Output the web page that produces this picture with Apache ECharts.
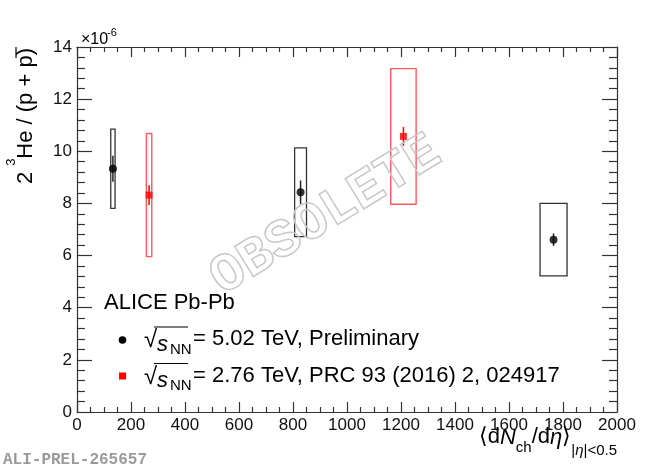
<!DOCTYPE html>
<html>
<head>
<meta charset="utf-8">
<script src="https://cdn.jsdelivr.net/npm/echarts@6/dist/echarts.min.js"></script>
<style>
html,body{margin:0;padding:0;background:#fff;}
#c{width:650px;height:469px;}
</style>
</head>
<body>
<div id="c"></div>
<script>
// ---------- data ----------
// sqrt(sNN) = 5.02 TeV, Preliminary
const mult502 = [133, 828, 1765];
const ratio502 = [9.33, 8.43, 6.61];
const stat502 = [0.50, 0.45, 0.24];
const sys502 = [1.52, 1.70, 1.39];
const multSys502 = [8, 22, 50];
// sqrt(sNN) = 2.76 TeV, PRC 93 (2016) 2, 024917
const mult276 = [267, 1209];
const ratio276 = [8.32, 10.57];
const stat276 = [0.38, 0.36];
const sys276 = [2.36, 2.60];
const multSys276 = [10, 47];
// axes
const xMin = 0, xMax = 2000, xStep = 200;
const yMin = 0, yMax = 14, yStep = 2;
const xTickLabels = ['0','200','400','600','800','1000','1200','1400','1600','1800','2000'];
const yTickLabels = ['0','2','4','6','8','10','12','14'];

// ---------- chart ----------
const chart = echarts.init(document.getElementById('c'), null, {renderer: 'canvas'});
const FONT = "'Liberation Sans', Arial, Helvetica, sans-serif";
const AX = '#333';

function mkX(pos, showLabel) {
  return {
    type: 'value', position: pos, min: xMin, max: xMax, interval: xStep,
    axisLine: {show: true, onZero: false, lineStyle: {color: AX, width: 1.2}},
    axisTick: {show: true, inside: true, length: 10, lineStyle: {color: AX, width: 1.2}},
    minorTick: {show: true, splitNumber: 4, length: 5, lineStyle: {color: AX, width: 1.2}},
    splitLine: {show: false}, minorSplitLine: {show: false},
    axisLabel: {
      show: showLabel, fontFamily: FONT, fontSize: 17, color: '#111', margin: 5,
      hideOverlap: false, showMinLabel: true, showMaxLabel: true,
      formatter: v => xTickLabels[Math.round((v - xMin) / xStep)]
    }
  };
}
function mkY(pos, showLabel) {
  return {
    type: 'value', position: pos, min: yMin, max: yMax, interval: yStep,
    axisLine: {show: true, onZero: false, lineStyle: {color: AX, width: 1.2}},
    axisTick: {show: true, inside: true, length: 15, lineStyle: {color: AX, width: 1.2}},
    minorTick: {show: true, splitNumber: 5, length: 8, lineStyle: {color: AX, width: 1.2}},
    splitLine: {show: false}, minorSplitLine: {show: false},
    axisLabel: {
      show: showLabel, fontFamily: FONT, fontSize: 17, color: '#111', margin: 5,
      hideOverlap: false, showMinLabel: true, showMaxLabel: true,
      formatter: v => yTickLabels[Math.round((v - yMin) / yStep)]
    }
  };
}

function errItem(boxColor, statColor, boxWidth) {
  return function (params, api) {
    const x = api.value(0), y = api.value(1), st = api.value(2), sy = api.value(3), dx = api.value(4);
    const p1 = api.coord([x - dx, y + sy]);
    const p2 = api.coord([x + dx, y - sy]);
    const s1 = api.coord([x, y + st]);
    const s2 = api.coord([x, y - st]);
    return {
      type: 'group',
      children: [
        {type: 'rect', shape: {x: p1[0], y: p1[1], width: p2[0] - p1[0], height: p2[1] - p1[1]},
         style: {fill: 'none', stroke: boxColor, lineWidth: boxWidth}},
        {type: 'line', shape: {x1: s1[0], y1: s1[1], x2: s2[0], y2: s2[1]},
         style: {stroke: statColor, lineWidth: 1.5}}
      ]
    };
  };
}

const data502 = mult502.map((x, i) => [x, ratio502[i], stat502[i], sys502[i], multSys502[i]]);
const data276 = mult276.map((x, i) => [x, ratio276[i], stat276[i], sys276[i], multSys276[i]]);

// legend / annotation text helpers
const BL = 0.3465; // baseline offset of 'middle' in em for Arial-metric fonts
function txt(x, baseline, text, fs, extra) {
  return {
    type: 'text', x: x, y: baseline - BL * fs, z: 100,
    style: Object.assign({text: text, fontFamily: FONT, fontSize: fs, fill: '#000',
      align: 'left', verticalAlign: 'middle'}, extra || {})
  };
}
function legendLine(yb, label) {
  // yb = baseline of the main text
  return [
    txt(144, yb + 2, '\u221A', 24),
    {type: 'line', z: 100, shape: {x1: 154, y1: yb - 20, x2: 188, y2: yb - 20}, style: {stroke: '#000', lineWidth: 1.2}},
    txt(157, yb + 5, 's', 22, {fontStyle: 'italic'}),
    txt(170, yb + 8, 'NN', 15),
    txt(193, yb, '= ' + label, 22)
  ];
}

const graphics = [
  // multiplier on the y axis
  txt(81, 45, '\u00D710', 16),
  txt(107, 37, '-6', 11),
  // y axis title (rotated)
  {
    type: 'group', x: 26, y: 184, rotation: Math.PI / 2, z: 100,
    children: [
      {type: 'text', x: 0, y: 0, style: {text: '2 ', fontFamily: FONT, fontSize: 22, fill: '#000', align: 'left', verticalAlign: 'middle'}},
      {type: 'text', x: 18.3, y: -14.5, style: {text: '3', fontFamily: FONT, fontSize: 13, fill: '#000', align: 'left', verticalAlign: 'middle'}},
      {type: 'text', x: 25.3, y: 0, style: {text: 'He / (p + p)', fontFamily: FONT, fontSize: 22, fill: '#000', align: 'left', verticalAlign: 'middle'}},
      {type: 'line', shape: {x1: 126, y1: -10, x2: 137, y2: -10}, style: {stroke: '#000', lineWidth: 1.2}}
    ]
  },
  // x axis title
  {
    type: 'text', x: 617, y: 455 - BL * 22, z: 100,
    style: {
      text: '{n|\u27E8d}{i|N}{s|ch}{n|/d}{i|\u03B7}{n|\u27E9}{s2|}{s2|\u007C}{s2i|\u03B7}{s2|\u007C<0.5}',
      align: 'right', verticalAlign: 'middle', fill: '#000',
      rich: {
        n: {fontFamily: FONT, fontSize: 22, lineHeight: 22, verticalAlign: 'bottom', padding: [0, 0, 10, 0]},
        i: {fontFamily: FONT, fontSize: 22, lineHeight: 22, fontStyle: 'italic', verticalAlign: 'bottom', padding: [0, 0, 10, 0]},
        s: {fontFamily: FONT, fontSize: 15, lineHeight: 15, verticalAlign: 'bottom', padding: [0, 0, 3, 0]},
        s2: {fontFamily: FONT, fontSize: 15, lineHeight: 15, verticalAlign: 'bottom', padding: [0, 0, 0, 0]},
        s2i: {fontFamily: FONT, fontSize: 15, lineHeight: 15, fontStyle: 'italic', verticalAlign: 'bottom', padding: [0, 0, 0, 0]}
      }
    }
  },
  // legend
  txt(104, 311, 'ALICE Pb-Pb', 22),
  {type: 'circle', z: 100, shape: {cx: 122.5, cy: 340, r: 3.8}, style: {fill: '#000'}},
  ...legendLine(347, '5.02 TeV, Preliminary'),
  {type: 'rect', z: 100, shape: {x: 119, y: 372.5, width: 7, height: 7}, style: {fill: '#f00'}},
  ...legendLine(383.5, '2.76 TeV, PRC 93 (2016) 2, 024917'),
  // watermark
  {
    type: 'text', x: 326, y: 216, rotation: 0.55, z: 90,
    style: {text: 'OBSOLETE', fontFamily: "'Liberation Mono', 'DejaVu Sans Mono', monospace", fontWeight: 'bold',
      fontSize: 54, fill: 'rgba(255,255,255,0)', stroke: '#c8c8c8', lineWidth: 1.5,
      align: 'center', verticalAlign: 'middle'}
  },
  // preliminary tag
  {
    type: 'text', x: 3, y: 460, z: 100,
    style: {text: 'ALI-PREL-265657', fontFamily: "'Liberation Mono', 'DejaVu Sans Mono', monospace", fontWeight: 'bold',
      fontSize: 16, fill: '#9a9a9a', align: 'left', verticalAlign: 'middle'}
  }
];

chart.setOption({
  animation: false,
  backgroundColor: '#fff',
  grid: {left: 77, right: 33, top: 47, bottom: 57, containLabel: false},
  xAxis: [mkX('bottom', true), mkX('top', false)],
  yAxis: [mkY('left', true), mkY('right', false)],
  series: [
    {type: 'custom', name: 'sys276', xAxisIndex: 0, yAxisIndex: 0, renderItem: errItem('#ff5a5a', '#f00', 1.4),
     data: data276, encode: {x: 0, y: 1}, z: 2},
    {type: 'custom', name: 'sys502', xAxisIndex: 0, yAxisIndex: 0, renderItem: errItem('#333', '#222', 1.3),
     data: data502, encode: {x: 0, y: 1}, z: 2},
    {type: 'scatter', name: '2.76 TeV', xAxisIndex: 0, yAxisIndex: 0, symbol: 'rect', symbolSize: 7,
     itemStyle: {color: '#f00'}, data: mult276.map((x, i) => [x, ratio276[i]]), z: 5},
    {type: 'scatter', name: '5.02 TeV', xAxisIndex: 0, yAxisIndex: 0, symbol: 'circle', symbolSize: 8,
     itemStyle: {color: '#000'}, data: mult502.map((x, i) => [x, ratio502[i]]), z: 5}
  ],
  graphic: graphics
});
</script>
</body>
</html>
